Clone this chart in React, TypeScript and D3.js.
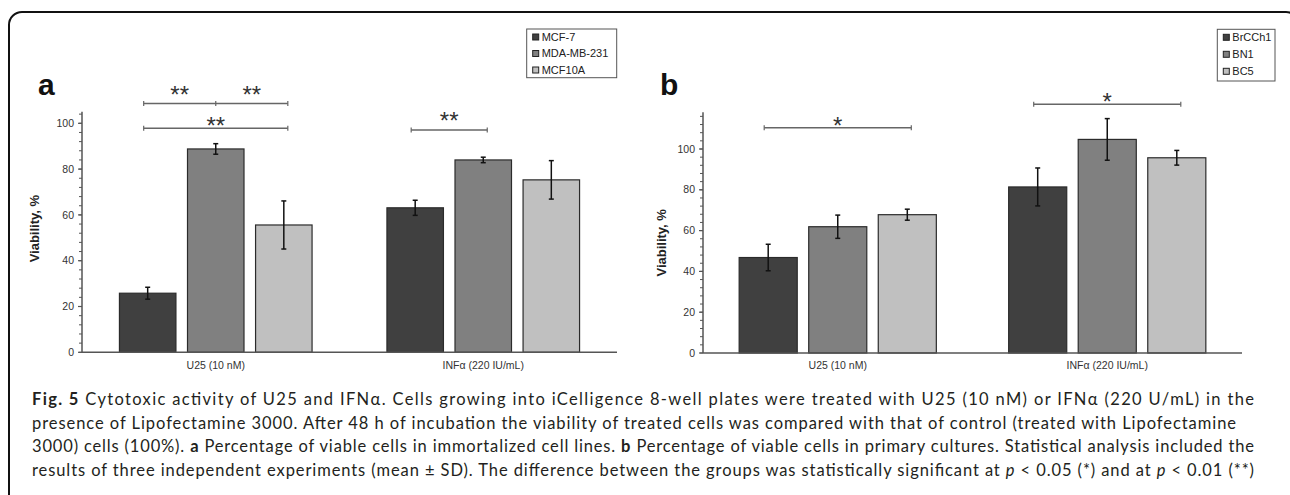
import React from "react";
import * as d3 from "d3";

const groups = ["U25 (10 nM)", "INFα (220 IU/mL)"];
const seriesA = ["MCF-7", "MDA-MB-231", "MCF10A"];
const seriesB = ["BrCCh1", "BN1", "BC5"];
const colors = ["#404040", "#808080", "#c0c0c0"];

// values[series][group]
const valuesA = [
  [25.8, 63.1],
  [88.8, 84.0],
  [55.6, 75.3],
];
const errorsA = [
  [2.6, 3.3],
  [2.3, 1.2],
  [10.5, 8.4],
];
const valuesB = [
  [46.8, 81.4],
  [61.9, 104.7],
  [67.8, 95.7],
];
const errorsB = [
  [6.5, 9.3],
  [5.7, 10.2],
  [2.7, 3.6],
];
const yTicks = [0, 20, 40, 60, 80, 100];

// brackets: group, from series, to series, bracket level, star level, label, middle tick
const bracketsA = [
  { g: 0, s1: 0, s2: 2, level: 108.7, starAt: 115, label: "**", mid: false, split: true },
  { g: 0, s1: 0, s2: 2, level: 97.8, starAt: 101.4, label: "**", mid: false, split: false },
  { g: 1, s1: 0, s2: 1, level: 97.1, starAt: 103.6, label: "**", mid: false, split: false },
];
const bracketsB = [
  { g: 0, s1: 0, s2: 2, level: 110.4, starAt: 114.3, label: "*", mid: false, split: false },
  { g: 1, s1: 0, s2: 2, level: 121.9, starAt: 126, label: "*", mid: false, split: false },
];

const captionLines = [
  [
    { t: "Fig. 5", w: "bold" },
    { t: " Cytotoxic activity of U25 and IFNα. Cells growing into iCelligence 8-well plates were treated with U25 (10 nM) or IFNα (220 U/mL) in the" },
  ],
  [
    { t: "presence of Lipofectamine 3000. After 48 h of incubation the viability of treated cells was compared with that of control (treated with Lipofectamine" },
  ],
  [
    { t: "3000) cells (100%). " },
    { t: "a", w: "bold" },
    { t: " Percentage of viable cells in immortalized cell lines. " },
    { t: "b", w: "bold" },
    { t: " Percentage of viable cells in primary cultures. Statistical analysis included the" },
  ],
  [
    { t: "results of three independent experiments (mean ± SD). The difference between the groups was statistically significant at " },
    { t: "p", i: true },
    { t: " < 0.05 (*) and at " },
    { t: "p", i: true },
    { t: " < 0.01 (**)" },
  ],
];

const AX = "Liberation Sans, Arial, sans-serif";

type PanelProps = {
  letter: string;
  letterX: number;
  x0: number;
  x1: number;
  y0: number;
  yMax: number;
  unit: number;
  values: number[][];
  errors: number[][];
  series: string[];
  brackets: any[];
  padIn: number;
  padOut: number;
  legend: { x: number; y: number; w: number; h: number; step: number };
  labelX: number;
};

function Panel(p: PanelProps) {
  const y = d3.scaleLinear().domain([0, p.yMax]).range([p.y0, p.y0 - p.yMax * p.unit]);
  const gx = d3.scaleBand<string>().domain(groups).range([p.x0, p.x1]).padding(0);
  const sx = d3
    .scaleBand<string>()
    .domain(p.series)
    .range([0, gx.bandwidth()])
    .paddingInner(p.padIn)
    .paddingOuter(p.padOut);
  const barX = (gi: number, si: number) => (gx(groups[gi]) as number) + (sx(p.series[si]) as number);
  const barC = (gi: number, si: number) => barX(gi, si) + sx.bandwidth() / 2;
  const minor = d3.range(0, p.yMax + 0.001, 4);
  const starFs = 24;
  return (
    <g>
      <text x={p.letterX} y={95} fontFamily={AX} fontWeight="bold" fontSize={30} fill="#111">
        {p.letter}
      </text>
      {/* bars */}
      {p.series.map((s, si) =>
        groups.map((g, gi) => {
          const v = p.values[si][gi];
          const e = p.errors[si][gi];
          const bx = barX(gi, si);
          const cx = barC(gi, si);
          return (
            <g key={s + g}>
              <rect
                x={bx}
                y={y(v)}
                width={sx.bandwidth()}
                height={y(0) - y(v)}
                fill={colors[si]}
                stroke="#2b2b2b"
                strokeWidth={1.2}
              />
              <line x1={cx} x2={cx} y1={y(v - e)} y2={y(v + e)} stroke="#111" strokeWidth={1.5} />
              <line x1={cx - 2.5} x2={cx + 2.5} y1={y(v + e)} y2={y(v + e)} stroke="#111" strokeWidth={1.5} />
              <line x1={cx - 2.5} x2={cx + 2.5} y1={y(v - e)} y2={y(v - e)} stroke="#111" strokeWidth={1.5} />
            </g>
          );
        })
      )}
      {/* y axis */}
      <line x1={p.x0} x2={p.x0} y1={y(0)} y2={y(p.yMax)} stroke="#555" strokeWidth={1.5} />
      {minor.map((t) => (
        <line key={"m" + t} x1={p.x0 - 3} x2={p.x0} y1={y(t)} y2={y(t)} stroke="#555" strokeWidth={1} />
      ))}
      {yTicks.map((t) => (
        <g key={"t" + t}>
          <line x1={p.x0 - 4} x2={p.x0} y1={y(t)} y2={y(t)} stroke="#555" strokeWidth={1.2} />
          <text
            x={p.x0 - 8}
            y={y(t)}
            dy="0.35em"
            textAnchor="end"
            fontFamily={AX}
            fontSize={10.5}
            fill="#333"
          >
            {t}
          </text>
        </g>
      ))}
      {/* x axis */}
      <line x1={p.x0} x2={p.x1} y1={y(0)} y2={y(0)} stroke="#555" strokeWidth={1.5} />
      {groups.map((g) => (
        <text
          key={g}
          x={(gx(g) as number) + gx.bandwidth() / 2}
          y={369}
          textAnchor="middle"
          fontFamily={AX}
          fontSize={10.5}
          fill="#333"
        >
          {g}
        </text>
      ))}
      <text
        transform={`translate(${p.labelX},${y(54)}) rotate(-90)`}
        textAnchor="middle"
        dy="0.35em"
        fontFamily={AX}
        fontWeight="bold"
        fontSize={13}
        fill="#222"
      >
        Viability, %
      </text>
      {/* brackets */}
      {p.brackets.map((b, i) => {
        const xa = barC(b.g, b.s1) - 4;
        const xb = barC(b.g, b.s2) + 4;
        const yy = y(b.level);
        const ys = y(b.starAt) + 0.575 * starFs;
        const xm = barC(b.g, 1);
        return (
          <g key={"b" + i}>
            <line x1={xa} x2={xb} y1={yy} y2={yy} stroke="#666" strokeWidth={1.5} />
            <line x1={xa} x2={xa} y1={yy - 2.5} y2={yy + 2.5} stroke="#666" strokeWidth={1.2} />
            <line x1={xb} x2={xb} y1={yy - 2.5} y2={yy + 2.5} stroke="#666" strokeWidth={1.2} />
            {b.split ? (
              <g>
                <line x1={xm} x2={xm} y1={yy - 2.5} y2={yy + 2.5} stroke="#666" strokeWidth={1.2} />
                <text x={(xa + xm) / 2} y={ys} textAnchor="middle" fontFamily={AX} fontSize={starFs} fill="#333">
                  {b.label}
                </text>
                <text x={(xm + xb) / 2} y={ys} textAnchor="middle" fontFamily={AX} fontSize={starFs} fill="#333">
                  {b.label}
                </text>
              </g>
            ) : (
              <text x={(xa + xb) / 2} y={ys} textAnchor="middle" fontFamily={AX} fontSize={starFs} fill="#333">
                {b.label}
              </text>
            )}
          </g>
        );
      })}
      {/* legend */}
      <rect x={p.legend.x} y={p.legend.y} width={p.legend.w} height={p.legend.h} fill="#fff" stroke="#555" strokeWidth={1} />
      {p.series.map((s, si) => {
        const cy = p.legend.y + 8 + si * p.legend.step;
        return (
          <g key={"l" + s}>
            <rect x={p.legend.x + 6} y={cy - 3} width={6} height={6} fill={colors[si]} stroke="#222" strokeWidth={1} />
            <text x={p.legend.x + 15} y={cy} dy="0.35em" fontFamily={AX} fontSize={11} fill="#222">
              {s}
            </text>
          </g>
        );
      })}
    </g>
  );
}

export default function App() {
  return (
    <svg
      width={1290}
      height={495}
      style={{ position: "absolute", left: 0, top: 0, background: "#fff" }}
    >
      <rect x={0} y={0} width={1290} height={495} fill="#fff" />
      <rect x={9} y={12} width={1290} height={620} rx={13} fill="none" stroke="#111" strokeWidth={2} />
      <Panel
        letter="a"
        letterX={38}
        x0={82}
        x1={617}
        y0={352.3}
        yMax={105}
        unit={2.29}
        values={valuesA}
        errors={errorsA}
        series={seriesA}
        brackets={bracketsA}
        padIn={0.17}
        padOut={0.55}
        legend={{ x: 526.7, y: 29, w: 90, h: 48.7, step: 16.5 }}
        labelX={34}
      />
      <Panel
        letter="b"
        letterX={660}
        x0={703}
        x1={1242}
        y0={353}
        yMax={118}
        unit={2.04}
        values={valuesB}
        errors={errorsB}
        series={seriesB}
        brackets={bracketsB}
        padIn={0.165}
        padOut={0.52}
        legend={{ x: 1217.3, y: 29.3, w: 57.7, h: 51.7, step: 17 }}
        labelX={661.5}
      />
      {captionLines.map((line, li) => (
        <text
          key={li}
          x={32}
          y={405 + li * 23.5}
          fontFamily="Lato, 'Open Sans', sans-serif"
          fontSize={16.5}
          fill="#231f20"
          textLength={li === 1 ? 1204 : 1222}
          lengthAdjust="spacing"
        >
          {line.map((s: any, si) => (
            <tspan key={si} fontWeight={s.w || "normal"} fontStyle={s.i ? "italic" : "normal"}>
              {s.t}
            </tspan>
          ))}
        </text>
      ))}
    </svg>
  );
}
